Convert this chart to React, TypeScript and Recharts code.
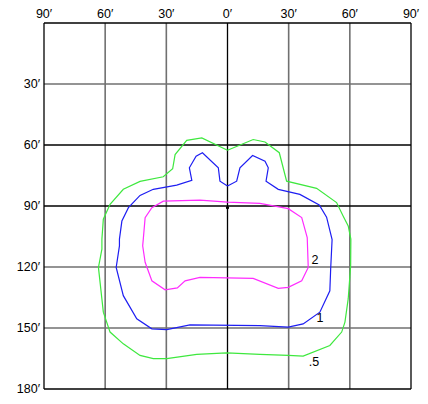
import {
  LineChart,
  Line,
  XAxis,
  YAxis,
  ReferenceLine,
  ReferenceDot,
} from "recharts";

// top axis (arc minutes, left/right of centre) and left axis (arc minutes down)
const X_TICKS = [-90, -60, -30, 0, 30, 60, 90];
const Y_TICKS = [30, 60, 90, 120, 150, 180];

// gridlines: which ones are drawn dark, which light
const X_DARK = [-90, 0, 90];
const X_LIGHT = [-60, -30, 30, 60];
const Y_DARK = [0, 60, 90, 180];
const Y_LIGHT = [30, 120, 150];

// contour ".5" (green)
const contourHalf = [
  { u: 0, v: 62.6 },
  { u: -12.6, v: 56.5 },
  { u: -20.0, v: 57.7 },
  { u: -25.7, v: 64.7 },
  { u: -26.9, v: 71.7 },
  { u: -31.5, v: 75.6 },
  { u: -42.9, v: 77.9 },
  { u: -51.1, v: 81.8 },
  { u: -57.6, v: 89.2 },
  { u: -60.9, v: 96.5 },
  { u: -61.6, v: 106.3 },
  { u: -61.6, v: 111.2 },
  { u: -63.3, v: 120.2 },
  { u: -60.9, v: 142.2 },
  { u: -57.6, v: 152.0 },
  { u: -51.1, v: 157.8 },
  { u: -42.9, v: 163.5 },
  { u: -36.4, v: 165.1 },
  { u: -29.8, v: 165.1 },
  { u: -15.1, v: 163.0 },
  { u: -0.4, v: 162.2 },
  { u: 15.9, v: 163.0 },
  { u: 29.8, v: 163.5 },
  { u: 37.1, v: 163.8 },
  { u: 50.2, v: 158.6 },
  { u: 56.0, v: 152.0 },
  { u: 57.6, v: 147.1 },
  { u: 59.2, v: 135.7 },
  { u: 60.4, v: 119.4 },
  { u: 60.5, v: 106.3 },
  { u: 59.2, v: 99.8 },
  { u: 56.7, v: 94.9 },
  { u: 53.5, v: 88.3 },
  { u: 43.7, v: 81.3 },
  { u: 29.0, v: 77.8 },
  { u: 25.4, v: 63.8 },
  { u: 18.4, v: 58.5 },
  { u: 12.6, v: 57.3 },
  { u: 0, v: 62.6 },
];

// contour "1" (blue)
const contourOne = [
  { u: 0, v: 80.2 },
  { u: -3.7, v: 77.8 },
  { u: -4.5, v: 71.2 },
  { u: -12.3, v: 63.8 },
  { u: -15.4, v: 65.5 },
  { u: -18.7, v: 71.2 },
  { u: -17.5, v: 77.4 },
  { u: -24.9, v: 79.7 },
  { u: -36.4, v: 81.8 },
  { u: -42.9, v: 84.8 },
  { u: -48.6, v: 90.8 },
  { u: -51.8, v: 97.4 },
  { u: -53.0, v: 106.3 },
  { u: -53.0, v: 109.6 },
  { u: -54.6, v: 120.2 },
  { u: -51.1, v: 134.1 },
  { u: -44.5, v: 145.5 },
  { u: -37.1, v: 150.4 },
  { u: -29.8, v: 150.8 },
  { u: -18.4, v: 148.5 },
  { u: 15.9, v: 148.8 },
  { u: 29.8, v: 149.6 },
  { u: 37.1, v: 148.0 },
  { u: 45.3, v: 142.2 },
  { u: 50.2, v: 131.7 },
  { u: 50.6, v: 121.0 },
  { u: 51.3, v: 106.5 },
  { u: 48.6, v: 95.5 },
  { u: 45.0, v: 89.5 },
  { u: 35.5, v: 84.3 },
  { u: 24.9, v: 81.8 },
  { u: 18.9, v: 77.8 },
  { u: 20.0, v: 71.2 },
  { u: 18.4, v: 68.0 },
  { u: 12.3, v: 65.2 },
  { u: 6.1, v: 71.2 },
  { u: 4.5, v: 77.8 },
  { u: 0, v: 80.2 },
];

// contour "2" (magenta)
const contourTwo = [
  { u: -41.3, v: 106.3 },
  { u: -40.4, v: 95.7 },
  { u: -37.1, v: 90.8 },
  { u: -31.5, v: 87.6 },
  { u: -13.5, v: 87.1 },
  { u: 0, v: 88.1 },
  { u: 15.9, v: 88.7 },
  { u: 29.8, v: 91.3 },
  { u: 36.4, v: 95.7 },
  { u: 39.1, v: 105.5 },
  { u: 39.6, v: 120.2 },
  { u: 36.4, v: 126.8 },
  { u: 29.8, v: 130.0 },
  { u: 24.9, v: 130.5 },
  { u: 12.6, v: 125.6 },
  { u: -0.4, v: 125.3 },
  { u: -13.5, v: 125.1 },
  { u: -20.8, v: 126.8 },
  { u: -24.6, v: 130.3 },
  { u: -30.6, v: 131.2 },
  { u: -37.1, v: 126.8 },
  { u: -40.4, v: 117.7 },
  { u: -41.6, v: 109.6 },
  { u: -41.3, v: 106.3 },
];

// contour labels and the centre mark
const LABELS = [
  { text: "2", u: 42.9, v: 116.1 },
  { text: "1", u: 45.3, v: 145.0 },
  { text: ".5", u: 42.4, v: 166.6 },
];
const CENTER = { u: 0, v: 90.8 };

const FONT = "'Liberation Sans', Arial, sans-serif";
const fmt = (v: number) => `${Math.abs(v)}′`;

export default function App() {
  return (
    <div style={{ position: "absolute", left: 0, top: 0, background: "#fff" }}>
      <LineChart
        width={428}
        height={404}
        margin={{ top: 0, right: 17, bottom: 15, left: 4 }}
      >
        <XAxis
          type="number"
          dataKey="u"
          orientation="top"
          domain={[-90, 90]}
          ticks={X_TICKS}
          tickFormatter={fmt}
          height={23}
          axisLine={false}
          tickLine={false}
          tickSize={0}
          tickMargin={5}
          tick={{ fill: "#000", fontSize: 12.5, fontFamily: FONT }}
          allowDataOverflow
        />
        <YAxis
          type="number"
          dataKey="v"
          reversed
          domain={[0, 180]}
          ticks={Y_TICKS}
          tickFormatter={fmt}
          width={40}
          axisLine={false}
          tickLine={false}
          tickSize={0}
          tickMargin={4}
          tick={{ fill: "#000", fontSize: 12.5, fontFamily: FONT }}
          allowDataOverflow
        />

        {X_LIGHT.map((x) => (
          <ReferenceLine key={`xl${x}`} x={x} stroke="#707070" strokeWidth={1.6} />
        ))}
        {Y_LIGHT.map((y) => (
          <ReferenceLine key={`yl${y}`} y={y} stroke="#707070" strokeWidth={1.6} />
        ))}
        {X_DARK.map((x) => (
          <ReferenceLine key={`xd${x}`} x={x} stroke="#000" strokeWidth={1.3} />
        ))}
        {Y_DARK.map((y) => (
          <ReferenceLine key={`yd${y}`} y={y} stroke="#000" strokeWidth={1.3} />
        ))}

        <Line
          data={contourHalf}
          dataKey="v"
          type="linear"
          stroke="#3ee83e"
          strokeWidth={1.2}
          dot={false}
          isAnimationActive={false}
        />
        <Line
          data={contourOne}
          dataKey="v"
          type="linear"
          stroke="#1e1ef2"
          strokeWidth={1.2}
          dot={false}
          isAnimationActive={false}
        />
        <Line
          data={contourTwo}
          dataKey="v"
          type="linear"
          stroke="#ff2cff"
          strokeWidth={1.2}
          dot={false}
          isAnimationActive={false}
        />

        <ReferenceDot x={CENTER.u} y={CENTER.v} r={1.6} fill="#000" stroke="none" />
        {LABELS.map((l) => (
          <ReferenceDot
            key={l.text}
            x={l.u}
            y={l.v}
            r={0}
            fill="none"
            stroke="none"
            label={{
              value: l.text,
              position: "center",
              fill: "#000",
              fontSize: 12.5,
              fontFamily: FONT,
            }}
          />
        ))}
      </LineChart>
    </div>
  );
}
